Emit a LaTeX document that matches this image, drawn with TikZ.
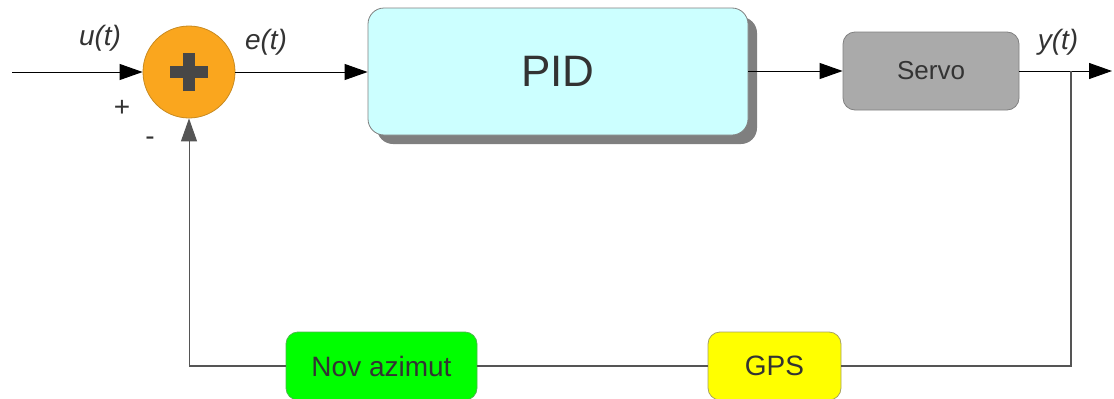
\documentclass[tikz,border=0pt]{standalone}
\usepackage{fontspec}
\setmainfont{Liberation Sans}
\usetikzlibrary{arrows.meta,shadows}
\definecolor{txt}{HTML}{333333}
\definecolor{sumfill}{HTML}{FAA61E}
\definecolor{sumedge}{HTML}{C88A20}
\definecolor{pidfill}{HTML}{CCFFFF}
\definecolor{servofill}{HTML}{AAAAAA}
\definecolor{novfill}{HTML}{00FF00}
\definecolor{gpsfill}{HTML}{FFFF00}
\definecolor{fb}{HTML}{555555}
\definecolor{shade}{HTML}{7F7F7F}
\tikzset{
  blk/.style={rounded corners=12pt, inner sep=0pt, text=txt, font=\fontsize{28}{30}\selectfont},
  sig/.style={line width=1pt, draw=black, -{Triangle[length=23pt,width=16pt]}},
  fbline/.style={line width=1.1pt, draw=fb},
  lab/.style={text=txt, font=\fontsize{28}{30}\selectfont\itshape},
  sgn/.style={text=txt, font=\fontsize{28}{30}\selectfont}
}
\begin{document}
\begin{tikzpicture}[x=1pt,y=-1pt]
\useasboundingbox (0,0) rectangle (1114,399);
% nodes
\node[circle, minimum size=92pt, inner sep=0pt, fill=sumfill, draw=sumedge, line width=0.8pt] (sum) at (189,72) {};
\draw[line width=12pt, draw=txt!90] ([xshift=-19pt]sum.center) -- ([xshift=19pt]sum.center);
\draw[line width=12pt, draw=txt!90] ([yshift=-19pt]sum.center) -- ([yshift=19pt]sum.center);
\node[blk, minimum width=380pt, minimum height=127pt, fill=pidfill, draw=gray, line width=0.8pt, rounded corners=16pt,
  copy shadow={shadow xshift=9pt, shadow yshift=-9pt, fill=shade, draw=none},
  font=\fontsize{44}{46}\selectfont] (pid) at (558,71.5) {PID};
\node[blk, minimum width=176pt, minimum height=78pt, fill=servofill, draw=gray, line width=0.8pt, font=\fontsize{26}{28}\selectfont] (servo) at (931,71) {Servo};
\node[blk, minimum width=191pt, minimum height=68pt, fill=novfill, draw=green!60!black!70, line width=0.8pt] (nov) at (381.5,366) {Nov azimut};
\node[blk, minimum width=133pt, minimum height=68pt, fill=gpsfill, draw=yellow!50!black!80, line width=0.8pt] (gps) at (774.5,366) {GPS};
\coordinate (in) at (12,72);
\coordinate (out) at (1112,71);
\coordinate (br) at (1071,71);
\coordinate (brd) at (1071,366);
\coordinate (fbl) at (189,366);
% labels
\node[lab] (lu) at (100,38) {u(t)};
\node[lab] (le) at (266,42) {e(t)};
\node[lab] (ly) at (1058,42) {y(t)};
\node[sgn] (lp) at (122,108) {+};
\node[sgn] (lm) at (150,141) {-};
% connectors
\draw[sig] (in) -- (sum.west);
\draw[sig] (sum.east) -- (pid.west |- sum.east);
\draw[sig] (pid.east |- servo.west) -- (servo.west);
\draw[sig] (servo.east) -- (out);
\draw[fbline] (br) -- (brd) -- (gps.east);
\draw[fbline] (gps.west) -- (nov.east);
\draw[fbline] (nov.west) -- (fbl);
\draw[sig, draw=fb] (fbl) -- (sum.south);
\end{tikzpicture}
\end{document}
